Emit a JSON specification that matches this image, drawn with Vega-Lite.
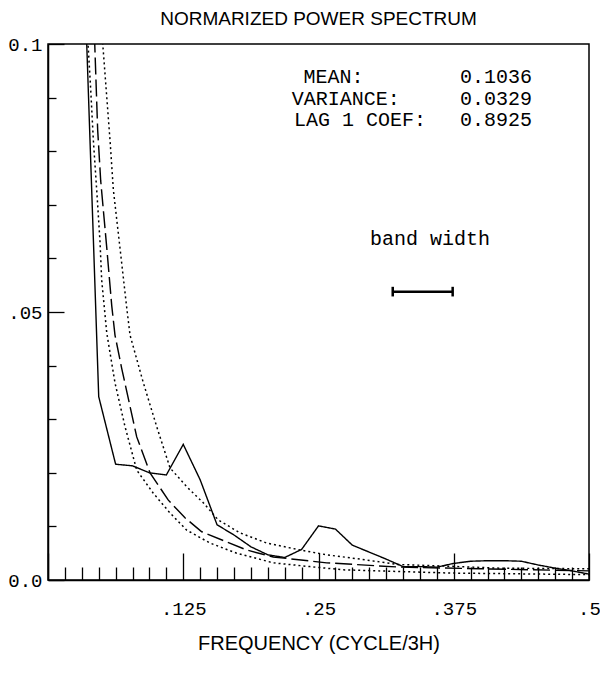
{
  "$schema": "https://vega.github.io/schema/vega-lite/v6.json",
  "width": 541,
  "height": 536,
  "autosize": {"type": "none"},
  "padding": {"left": 48, "top": 44, "right": 11, "bottom": 93},
  "background": "white",
  "title": {
    "text": "NORMARIZED POWER SPECTRUM",
    "font": "Liberation Sans",
    "fontSize": 19,
    "fontWeight": "normal",
    "color": "black",
    "anchor": "middle",
    "baseline": "bottom",
    "offset": -13
  },
  "config": {
    "view": {"stroke": "black", "strokeWidth": 1.5},
    "axis": {
      "grid": false,
      "domainColor": "black",
      "domainWidth": 1.5,
      "tickColor": "black",
      "tickWidth": 1.3,
      "labelColor": "black",
      "labelFont": "Liberation Mono",
      "labelFontSize": 19,
      "titleColor": "black"
    }
  },
  "datasets": {
    "spec": [
      {"f": 0.03125, "v": 0.127, "series": "spectrum"},
      {"f": 0.046875, "v": 0.0342, "series": "spectrum"},
      {"f": 0.0625, "v": 0.0216, "series": "spectrum"},
      {"f": 0.078125, "v": 0.0213, "series": "spectrum"},
      {"f": 0.09375, "v": 0.0200, "series": "spectrum"},
      {"f": 0.109375, "v": 0.0196, "series": "spectrum"},
      {"f": 0.125, "v": 0.0253, "series": "spectrum"},
      {"f": 0.140625, "v": 0.0187, "series": "spectrum"},
      {"f": 0.15625, "v": 0.0103, "series": "spectrum"},
      {"f": 0.171875, "v": 0.0084, "series": "spectrum"},
      {"f": 0.1875, "v": 0.0062, "series": "spectrum"},
      {"f": 0.203125, "v": 0.0047, "series": "spectrum"},
      {"f": 0.21875, "v": 0.0042, "series": "spectrum"},
      {"f": 0.234375, "v": 0.0057, "series": "spectrum"},
      {"f": 0.25, "v": 0.0101, "series": "spectrum"},
      {"f": 0.265625, "v": 0.0095, "series": "spectrum"},
      {"f": 0.28125, "v": 0.0065, "series": "spectrum"},
      {"f": 0.296875, "v": 0.0052, "series": "spectrum"},
      {"f": 0.3125, "v": 0.0039, "series": "spectrum"},
      {"f": 0.328125, "v": 0.0025, "series": "spectrum"},
      {"f": 0.34375, "v": 0.0025, "series": "spectrum"},
      {"f": 0.359375, "v": 0.0024, "series": "spectrum"},
      {"f": 0.375, "v": 0.0031, "series": "spectrum"},
      {"f": 0.390625, "v": 0.0035, "series": "spectrum"},
      {"f": 0.40625, "v": 0.0036, "series": "spectrum"},
      {"f": 0.421875, "v": 0.0036, "series": "spectrum"},
      {"f": 0.4375, "v": 0.0035, "series": "spectrum"},
      {"f": 0.453125, "v": 0.0028, "series": "spectrum"},
      {"f": 0.46875, "v": 0.0022, "series": "spectrum"},
      {"f": 0.484375, "v": 0.0017, "series": "spectrum"},
      {"f": 0.5, "v": 0.0011, "series": "spectrum"},

      {"f": 0.0400, "v": 0.118, "series": "rednoise"},
      {"f": 0.0432, "v": 0.1000, "series": "rednoise"},
      {"f": 0.0459, "v": 0.0840, "series": "rednoise"},
      {"f": 0.0487, "v": 0.0745, "series": "rednoise"},
      {"f": 0.0543, "v": 0.0620, "series": "rednoise"},
      {"f": 0.0589, "v": 0.0512, "series": "rednoise"},
      {"f": 0.0619, "v": 0.0457, "series": "rednoise"},
      {"f": 0.0681, "v": 0.0395, "series": "rednoise"},
      {"f": 0.0820, "v": 0.0267, "series": "rednoise"},
      {"f": 0.0943, "v": 0.0200, "series": "rednoise"},
      {"f": 0.1112, "v": 0.0149, "series": "rednoise"},
      {"f": 0.1266, "v": 0.0116, "series": "rednoise"},
      {"f": 0.1421, "v": 0.0090, "series": "rednoise"},
      {"f": 0.1652, "v": 0.0071, "series": "rednoise"},
      {"f": 0.1836, "v": 0.0056, "series": "rednoise"},
      {"f": 0.2082, "v": 0.0043, "series": "rednoise"},
      {"f": 0.2576, "v": 0.0032, "series": "rednoise"},
      {"f": 0.3253, "v": 0.0024, "series": "rednoise"},
      {"f": 0.3993, "v": 0.0021, "series": "rednoise"},
      {"f": 0.5, "v": 0.0017, "series": "rednoise"},

      {"f": 0.0470, "v": 0.118, "series": "upper"},
      {"f": 0.0506, "v": 0.1000, "series": "upper"},
      {"f": 0.0573, "v": 0.0821, "series": "upper"},
      {"f": 0.0604, "v": 0.0728, "series": "upper"},
      {"f": 0.0665, "v": 0.0620, "series": "upper"},
      {"f": 0.0727, "v": 0.0509, "series": "upper"},
      {"f": 0.0758, "v": 0.0457, "series": "upper"},
      {"f": 0.0881, "v": 0.0368, "series": "upper"},
      {"f": 0.1005, "v": 0.0286, "series": "upper"},
      {"f": 0.1128, "v": 0.0209, "series": "upper"},
      {"f": 0.1282, "v": 0.0174, "series": "upper"},
      {"f": 0.1435, "v": 0.0144, "series": "upper"},
      {"f": 0.1574, "v": 0.0112, "series": "upper"},
      {"f": 0.1774, "v": 0.0088, "series": "upper"},
      {"f": 0.2021, "v": 0.0069, "series": "upper"},
      {"f": 0.2329, "v": 0.0056, "series": "upper"},
      {"f": 0.2576, "v": 0.0047, "series": "upper"},
      {"f": 0.2884, "v": 0.0039, "series": "upper"},
      {"f": 0.3231, "v": 0.0029, "series": "upper"},
      {"f": 0.3669, "v": 0.0026, "series": "upper"},
      {"f": 0.4177, "v": 0.0022, "series": "upper"},
      {"f": 0.5, "v": 0.0021, "series": "upper"},

      {"f": 0.0340, "v": 0.123, "series": "lower"},
      {"f": 0.0370, "v": 0.1000, "series": "lower"},
      {"f": 0.0395, "v": 0.0914, "series": "lower"},
      {"f": 0.0419, "v": 0.0821, "series": "lower"},
      {"f": 0.0450, "v": 0.0728, "series": "lower"},
      {"f": 0.0481, "v": 0.0630, "series": "lower"},
      {"f": 0.0496, "v": 0.0560, "series": "lower"},
      {"f": 0.0543, "v": 0.0461, "series": "lower"},
      {"f": 0.0619, "v": 0.0368, "series": "lower"},
      {"f": 0.0712, "v": 0.0286, "series": "lower"},
      {"f": 0.0820, "v": 0.0205, "series": "lower"},
      {"f": 0.0973, "v": 0.0162, "series": "lower"},
      {"f": 0.1128, "v": 0.0125, "series": "lower"},
      {"f": 0.1282, "v": 0.0093, "series": "lower"},
      {"f": 0.1497, "v": 0.0069, "series": "lower"},
      {"f": 0.1744, "v": 0.0050, "series": "lower"},
      {"f": 0.2082, "v": 0.0032, "series": "lower"},
      {"f": 0.2421, "v": 0.0025, "series": "lower"},
      {"f": 0.2726, "v": 0.0019, "series": "lower"},
      {"f": 0.3715, "v": 0.0013, "series": "lower"},
      {"f": 0.5, "v": 0.0010, "series": "lower"}
    ],
    "bwbar": [{"f": 0.3186, "f2": 0.374, "v": 0.0538}],
    "bwcaps": [{"f": 0.3186, "v": 0.0529, "v2": 0.0547}, {"f": 0.374, "v": 0.0529, "v2": 0.0547}],
    "statlab": [
      {"f": 0.2638, "v": 0.09267, "txt": "MEAN:"},
      {"f": 0.2752, "v": 0.08862, "txt": "VARIANCE:"},
      {"f": 0.2884, "v": 0.08470, "txt": "LAG 1 COEF:"}
    ],
    "statval": [
      {"f": 0.4140, "v": 0.09267, "txt": "0.1036"},
      {"f": 0.4140, "v": 0.08862, "txt": "0.0329"},
      {"f": 0.4140, "v": 0.08470, "txt": "0.8925"}
    ],
    "bwtext": [{"f": 0.3531, "v": 0.0625, "txt": "band width"}]
  },
  "layer": [
    {
      "data": {"name": "spec"},
      "mark": {"type": "line", "clip": true, "color": "black"},
      "encoding": {
        "x": {
          "field": "f",
          "type": "quantitative",
          "scale": {"domain": [0, 0.5], "nice": false, "zero": false},
          "axis": {
            "values": [0, 0.015625, 0.03125, 0.046875, 0.0625, 0.078125, 0.09375, 0.109375, 0.125, 0.140625, 0.15625, 0.171875, 0.1875, 0.203125, 0.21875, 0.234375, 0.25, 0.265625, 0.28125, 0.296875, 0.3125, 0.328125, 0.34375, 0.359375, 0.375, 0.390625, 0.40625, 0.421875, 0.4375, 0.453125, 0.46875, 0.484375, 0.5],
            "tickCount": 60,
            "tickSize": {"condition": {"test": "datum.value % 0.125 === 0", "value": -27}, "value": -13},
            "labelExpr": "datum.value > 0 && datum.value % 0.125 === 0 ? replace(format(datum.value, '.3~f'), '0.', '.') : ''",
            "labelPadding": 46,
            "labelBaseline": "top",
            "labelFlush": false,
            "labelOverlap": false,
            "title": "FREQUENCY (CYCLE/3H)",
            "titleFont": "Liberation Sans",
            "titleFontSize": 20,
            "titleFontWeight": "normal",
            "titlePadding": 1
          }
        },
        "y": {
          "field": "v",
          "type": "quantitative",
          "scale": {"domain": [0, 0.1], "nice": false, "zero": false},
          "axis": {
            "values": [0, 0.01, 0.02, 0.03, 0.04, 0.05, 0.06, 0.07, 0.08, 0.09, 0.1],
            "tickCount": 30,
            "tickSize": {"condition": {"test": "datum.value === 0 || datum.value === 0.05 || datum.value === 0.1", "value": -16}, "value": -8},
            "labelExpr": "datum.value === 0 ? '0.0' : datum.value === 0.05 ? '.05' : datum.value === 0.1 ? '0.1' : ''",
            "labelPadding": 22,
            "labelBaseline": "middle",
            "labelFlush": false,
            "labelOverlap": false,
            "title": null
          }
        },
        "strokeDash": {
          "field": "series",
          "type": "nominal",
          "scale": {"domain": ["spectrum", "rednoise", "upper", "lower"], "range": [[1, 0], [17, 5], [2, 3], [2, 3]]},
          "legend": null
        },
        "strokeWidth": {
          "field": "series",
          "type": "nominal",
          "scale": {"domain": ["spectrum", "rednoise", "upper", "lower"], "range": [1.4, 1.5, 1.7, 1.7]},
          "legend": null
        }
      }
    },
    {
      "data": {"name": "bwbar"},
      "mark": {"type": "rule", "color": "black", "strokeWidth": 2.5},
      "encoding": {
        "x": {"field": "f", "type": "quantitative"},
        "x2": {"field": "f2"},
        "y": {"field": "v", "type": "quantitative"}
      }
    },
    {
      "data": {"name": "bwcaps"},
      "mark": {"type": "rule", "color": "black", "strokeWidth": 2.5},
      "encoding": {
        "x": {"field": "f", "type": "quantitative"},
        "y": {"field": "v", "type": "quantitative"},
        "y2": {"field": "v2"}
      }
    },
    {
      "data": {"name": "statlab"},
      "mark": {"type": "text", "font": "Liberation Mono", "fontSize": 20, "align": "center", "baseline": "alphabetic", "color": "black"},
      "encoding": {
        "x": {"field": "f", "type": "quantitative"},
        "y": {"field": "v", "type": "quantitative"},
        "text": {"field": "txt"}
      }
    },
    {
      "data": {"name": "statval"},
      "mark": {"type": "text", "font": "Liberation Mono", "fontSize": 20, "align": "center", "baseline": "alphabetic", "color": "black"},
      "encoding": {
        "x": {"field": "f", "type": "quantitative"},
        "y": {"field": "v", "type": "quantitative"},
        "text": {"field": "txt"}
      }
    },
    {
      "data": {"name": "bwtext"},
      "mark": {"type": "text", "font": "Liberation Mono", "fontSize": 20, "align": "center", "baseline": "alphabetic", "color": "black"},
      "encoding": {
        "x": {"field": "f", "type": "quantitative"},
        "y": {"field": "v", "type": "quantitative"},
        "text": {"field": "txt"}
      }
    }
  ]
}
